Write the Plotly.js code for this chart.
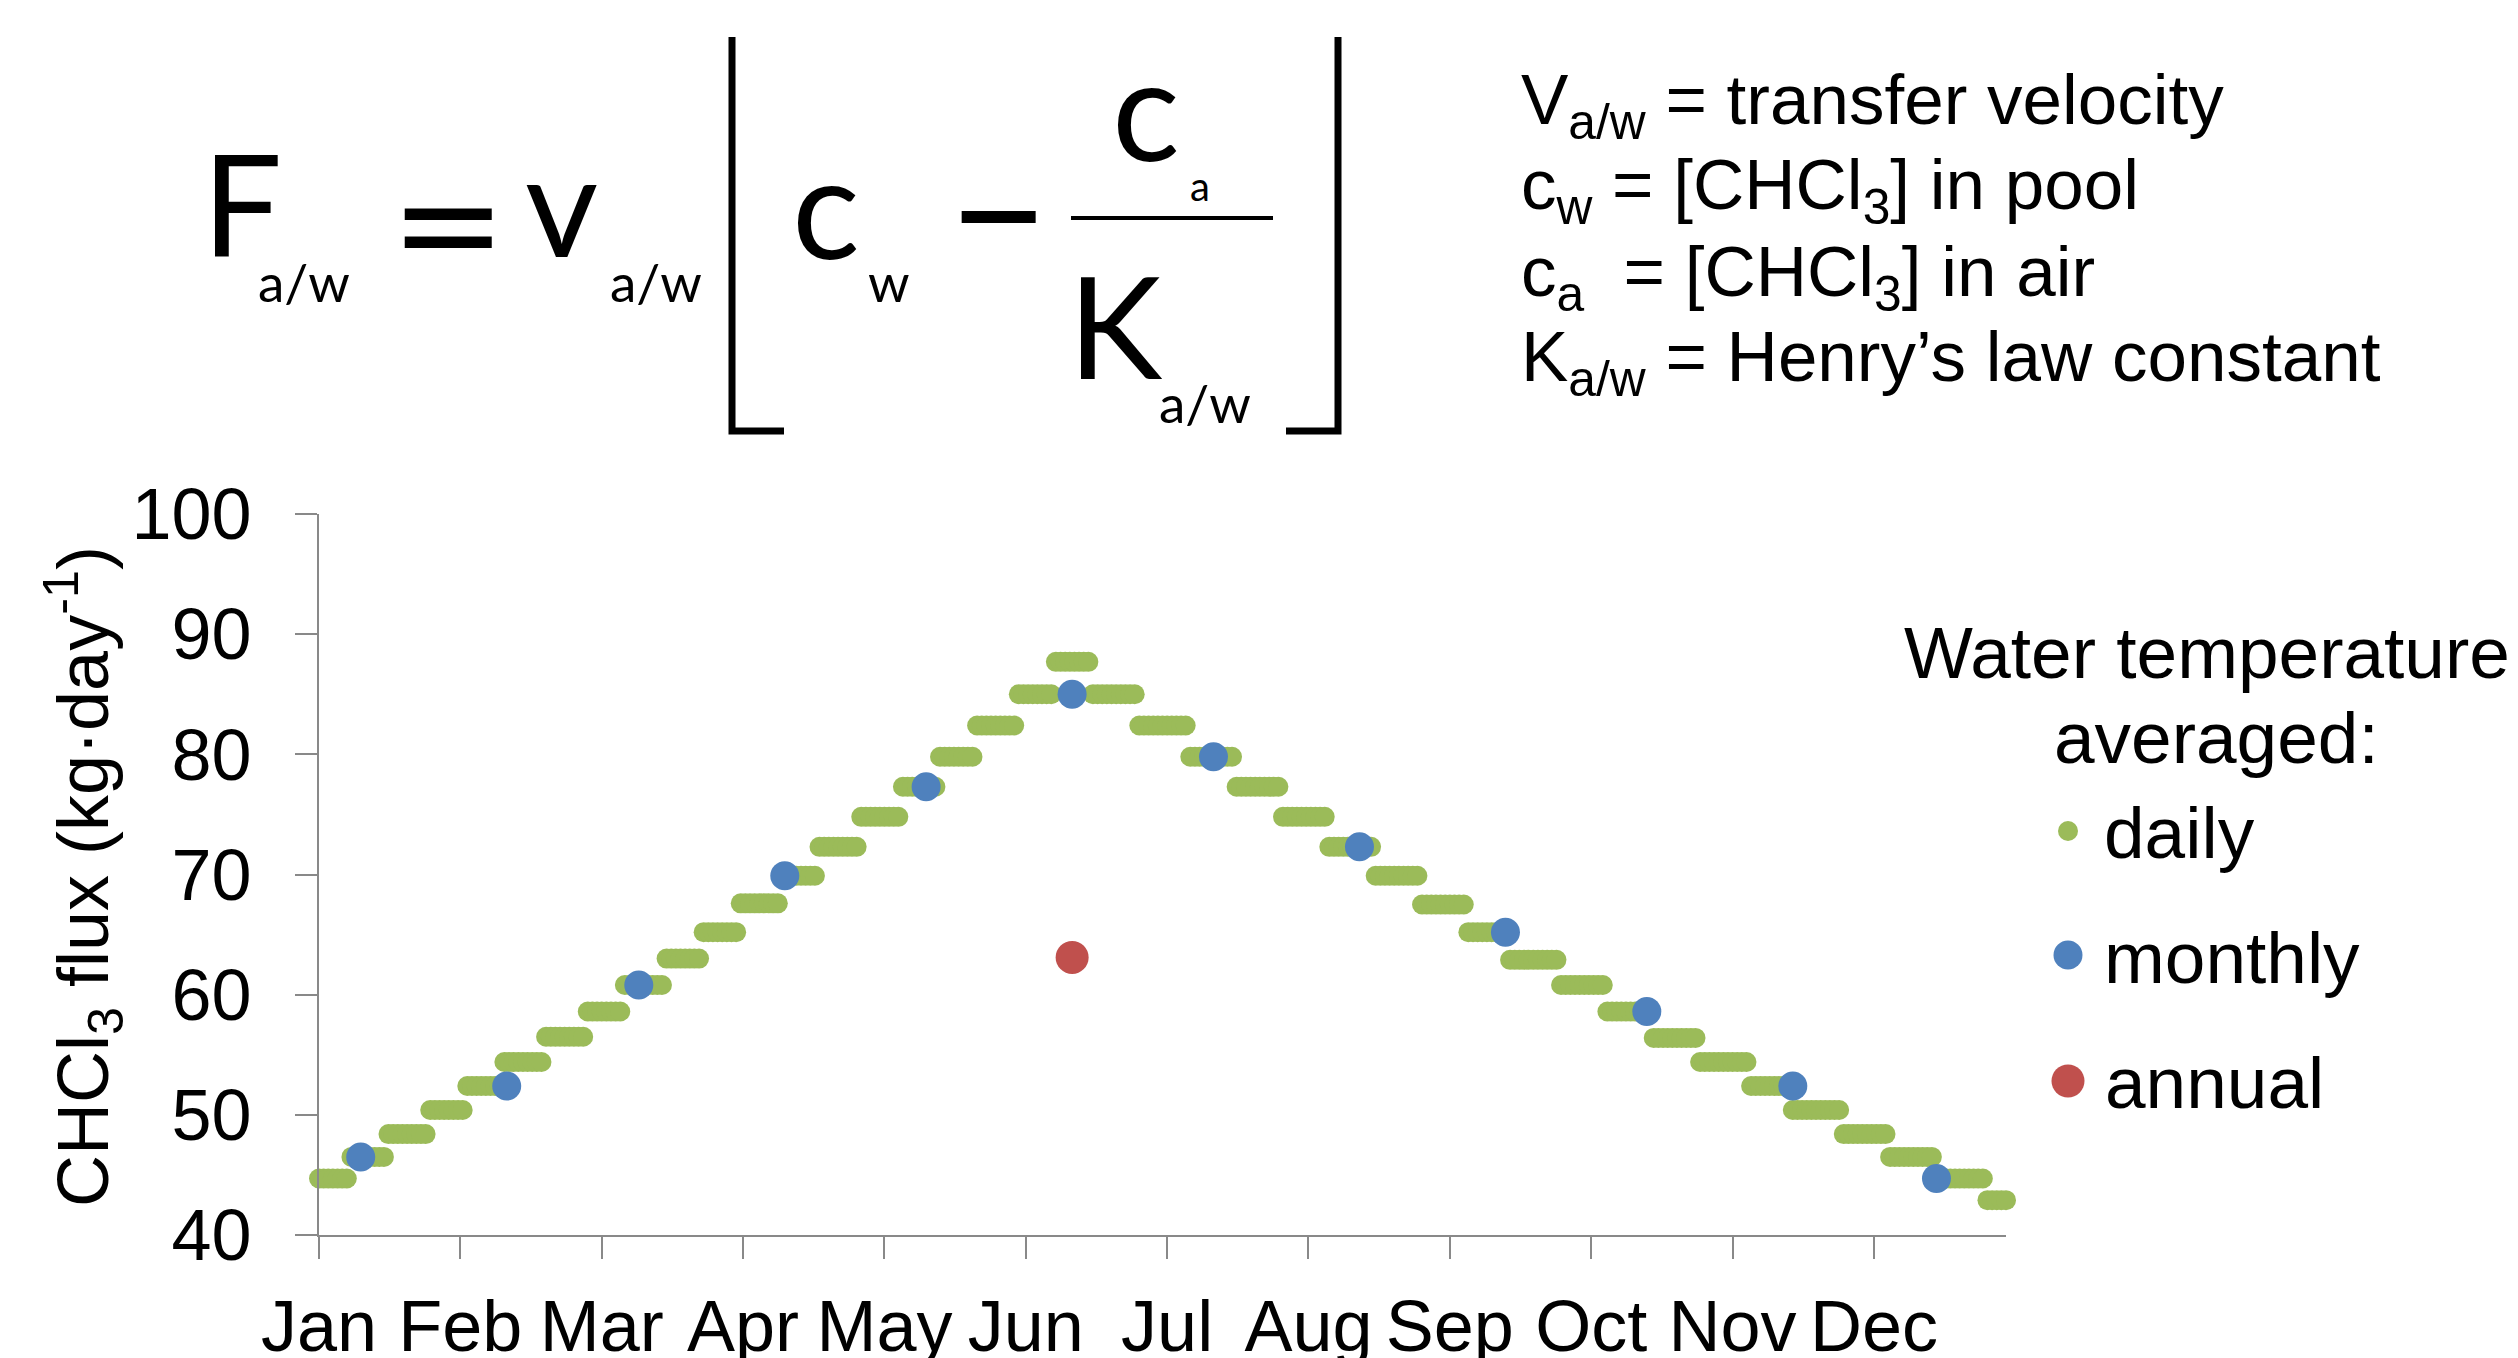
<!DOCTYPE html>
<html>
<head>
<meta charset="utf-8">
<script src="https://cdn.plot.ly/plotly-3.0.1.min.js"></script>
<style>
html,body{margin:0;padding:0;background:#ffffff;}
#chart{width:2518px;height:1358px;}
</style>
</head>
<body>
<div id="chart"></div>
<script>
// ---------------- data ----------------
const monthLabels = ['Jan','Feb','Mar','Apr','May','Jun','Jul','Aug','Sep','Oct','Nov','Dec'];
const monthTickDays = [1, 31.5, 62, 92.5, 123, 153.5, 184, 214.5, 245, 275.5, 306, 336.5];
const yTickValues = [40, 50, 60, 70, 80, 90, 100];

// daily series: constant-value runs (first day, last day, flux)
const dailyRunStart = [1, 8, 16, 25, 33, 41, 50, 59, 67, 76, 84, 92, 101, 109, 118, 127, 135, 143, 152, 160,
                       168, 178, 189, 199, 209, 219, 229, 239, 249, 258, 269, 279, 289, 299, 310, 319, 330, 340, 350, 361];
const dailyRunEnd   = [7, 15, 24, 32, 40, 49, 58, 66, 75, 83, 91, 100, 108, 117, 126, 134, 142, 151, 159, 167,
                       177, 188, 198, 208, 218, 228, 238, 248, 257, 268, 278, 288, 298, 309, 318, 329, 339, 349, 360, 365];
const dailyRunFlux  = [44.7, 46.5, 48.4, 50.4, 52.4, 54.4, 56.5, 58.6, 60.8, 63.0, 65.2, 67.6, 69.9, 72.3, 74.8, 77.3, 79.8, 82.4, 85.0, 87.7,
                       85.0, 82.4, 79.8, 77.3, 74.8, 72.3, 69.9, 67.5, 65.2, 62.9, 60.8, 58.6, 56.4, 54.4, 52.4, 50.4, 48.4, 46.5, 44.7, 42.9];

const monthlyDay  = [10, 41.5, 70, 101.5, 132, 163.5, 194, 225.5, 257, 287.5, 319, 350];
const monthlyFlux = [46.5, 52.4, 60.8, 69.9, 77.3, 85.0, 79.8, 72.3, 65.2, 58.6, 52.4, 44.7];

const annualDay  = [163.5];
const annualFlux = [63.1];

const seriesNames  = ['daily', 'monthly', 'annual'];
const seriesColors = ['#9BBB59', '#4F81BD', '#C0504D'];

// expand the daily runs into one point per day
const dailyDay = [], dailyFlux = [];
dailyRunStart.forEach((s, i) => {
  for (let d = s; d <= dailyRunEnd[i]; d++) { dailyDay.push(d); dailyFlux.push(dailyRunFlux[i]); }
});

// ---------------- geometry helpers ----------------
const W = 2518, H = 1358;
const ML = 319, MR = 512, MT = 514, MB = 123;
const PW = W - ML - MR, PH = H - MT - MB;
const px = X => (X - ML) / PW;
const py = Y => (H - MB - Y) / PH;

const ARIAL = 'Liberation Sans, Arial, sans-serif';
const CALIB = 'Lato, Carlito, Calibri, sans-serif';
const axisGray = '#898989';

// ---------------- traces ----------------
const traces = [
  {x: dailyDay, y: dailyFlux, type: 'scatter', mode: 'markers', name: seriesNames[0], cliponaxis: false,
   marker: {size: 20, color: seriesColors[0], line: {width: 0}}, hoverinfo: 'x+y'},
  {x: monthlyDay, y: monthlyFlux, type: 'scatter', mode: 'markers', name: seriesNames[1], cliponaxis: false,
   marker: {size: 29, color: seriesColors[1], line: {width: 0}}},
  {x: annualDay, y: annualFlux, type: 'scatter', mode: 'markers', name: seriesNames[2], cliponaxis: false,
   marker: {size: 33, color: seriesColors[2], line: {width: 0}}}
];

// ---------------- annotations ----------------
function ann(text, X, Y, opts) {
  return Object.assign({text: text, xref: 'paper', yref: 'paper', x: px(X), y: py(Y),
    showarrow: false, xanchor: 'center', yanchor: 'middle'}, opts || {});
}
const fMain = {family: CALIB, size: 142, color: '#000'};
const fSub  = {family: CALIB, size: 53, color: '#000'};

const annotations = [
  // formula
  ann('F', 242, 202, {font: fMain}),
  ann('a/w', 304, 282, {font: fSub}),
  ann('=', 448, 224, {font: {family: 'DejaVu Sans', size: 139, color: '#000'}}),
  ann('v', 561, 202, {font: fMain}),
  ann('a/w', 656, 282, {font: fSub}),
  ann('c', 826, 204, {font: fMain}),
  ann('w', 889, 282, {font: fSub}),
  ann('\u2013', 998, 199, {font: {family: CALIB, size: 185, color: '#000'}}),
  ann('c', 1146, 106, {font: fMain}),
  ann('a', 1200, 186, {font: {family: CALIB, size: 40, color: '#000'}}),
  ann('K', 1115, 324, {font: fMain}),
  ann('a/w', 1205, 402, {font: fSub}),
  // definitions
  ann('V<sub>a/w</sub> = transfer velocity', 1519, 125 - 67, {xanchor: 'left', yanchor: 'top', font: {family: ARIAL, size: 71, color: '#000'}}),
  ann('c<sub>w</sub> = [CHCl<sub>3</sub>] in pool', 1519, 210 - 67, {xanchor: 'left', yanchor: 'top', font: {family: ARIAL, size: 71, color: '#000'}}),
  ann('c<sub>a</sub> \u00a0= [CHCl<sub>3</sub>] in air', 1519, 297 - 67, {xanchor: 'left', yanchor: 'top', font: {family: ARIAL, size: 71, color: '#000'}}),
  ann('K<sub>a/w</sub> = Henry\u2019s law constant', 1519, 382 - 67, {xanchor: 'left', yanchor: 'top', font: {family: ARIAL, size: 71, color: '#000'}}),
  // y axis title
  ann('CHCl<sub>3</sub> flux (kg\u00b7day<sup>-1</sup>)', 83, 877, {textangle: -90, font: {family: ARIAL, size: 72, color: '#000'}}),
  // legend
  ann('Water temperature', 2207, 652, {font: {family: ARIAL, size: 73, color: '#000'}}),
  ann('averaged:', 2216, 737, {font: {family: ARIAL, size: 73, color: '#000'}}),
  ann(seriesNames[0], 2102, 832, {xanchor: 'left', font: {family: ARIAL, size: 73, color: '#000'}}),
  ann(seriesNames[1], 2102, 957, {xanchor: 'left', font: {family: ARIAL, size: 73, color: '#000'}}),
  ann(seriesNames[2], 2103, 1082, {xanchor: 'left', font: {family: ARIAL, size: 73, color: '#000'}})
];

// ---------------- shapes (brackets, fraction bar, legend symbols) ----------------
function legendDot(X, Y, d, color) {
  return {type: 'circle', xref: 'paper', yref: 'paper', xsizemode: 'pixel', ysizemode: 'pixel',
    xanchor: px(X), yanchor: py(Y), x0: -d / 2, x1: d / 2, y0: -d / 2, y1: d / 2,
    fillcolor: color, line: {width: 0}};
}
const shapes = [
  {type: 'path', xref: 'paper', yref: 'paper', line: {color: '#000', width: 7},
   path: `M ${px(784)} ${py(431)} L ${px(732)} ${py(431)} L ${px(732)} ${py(37)}`},
  {type: 'path', xref: 'paper', yref: 'paper', line: {color: '#000', width: 7},
   path: `M ${px(1286)} ${py(431)} L ${px(1338)} ${py(431)} L ${px(1338)} ${py(37)}`},
  {type: 'line', xref: 'paper', yref: 'paper', x0: px(1071), x1: px(1273), y0: py(218), y1: py(218),
   line: {color: '#000', width: 4}},
  legendDot(2068, 831, 20, seriesColors[0]),
  legendDot(2068, 955, 29, seriesColors[1]),
  legendDot(2068, 1081, 33, seriesColors[2])
];

const axisCommon = {
  showgrid: false, zeroline: false, showline: true, linecolor: axisGray, linewidth: 2,
  ticks: 'outside', ticklen: 22, tickwidth: 2, tickcolor: axisGray,
  tickfont: {family: ARIAL, size: 72, color: '#000'}, fixedrange: true, automargin: false
};

const layout = {
  width: W, height: H,
  margin: {l: ML, r: MR, t: MT, b: MB, pad: 0},
  paper_bgcolor: '#ffffff', plot_bgcolor: '#ffffff',
  showlegend: false,
  xaxis: Object.assign({}, axisCommon, {
    range: [1, 365], tickmode: 'array', tickvals: monthTickDays, ticktext: monthLabels,
    tickangle: 0, ticklabelstandoff: 6
  }),
  yaxis: Object.assign({}, axisCommon, {
    range: [40, 100], tickmode: 'array', tickvals: yTickValues, ticktext: yTickValues.map(String),
    ticklabelstandoff: 29
  }),
  annotations: annotations,
  shapes: shapes
};

Plotly.newPlot('chart', traces, layout, {displayModeBar: false, staticPlot: true});
</script>
</body>
</html>
